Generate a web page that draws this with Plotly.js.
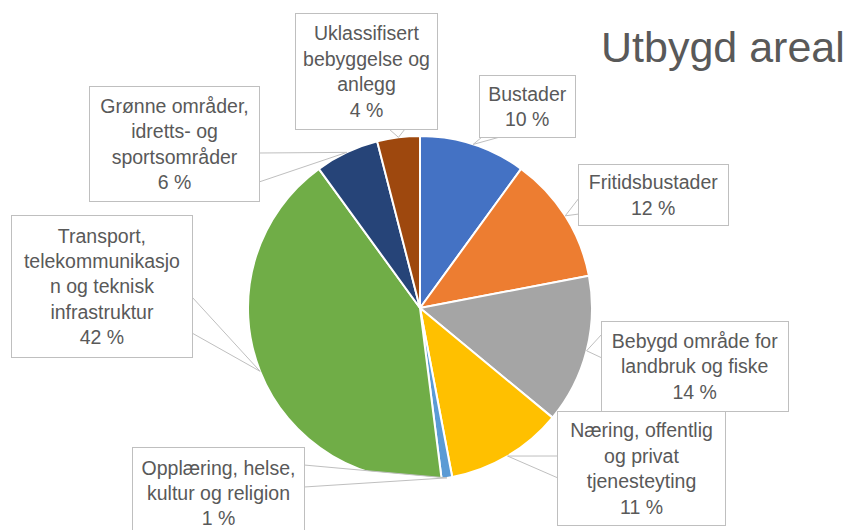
<!DOCTYPE html>
<html>
<head>
<meta charset="utf-8">
<script src="https://cdn.plot.ly/plotly-3.0.1.min.js"></script>
<style>html,body{margin:0;padding:0;background:#fff;}#chart{width:848px;height:530px;}</style>
</head>
<body>
<div id="chart"></div>
<script>
// ---- data ----
const categories = [
  "Bustader",
  "Fritidsbustader",
  "Bebygd område for<br>landbruk og fiske",
  "Næring, offentlig<br>og privat<br>tjenesteyting",
  "Opplæring, helse,<br>kultur og religion",
  "Transport,<br>telekommunikasjo<br>n og teknisk<br>infrastruktur",
  "Grønne områder,<br>idretts- og<br>sportsområder",
  "Uklassifisert<br>bebyggelse og<br>anlegg"
];
const values = [10, 12, 14, 11, 1, 42, 6, 4];
const percentLabels = ["10 %", "12 %", "14 %", "11 %", "1 %", "42 %", "6 %", "4 %"];
const colors = ["#4472C4", "#ED7D31", "#A5A5A5", "#FFC000", "#5B9BD5", "#70AD47", "#264478", "#9E480E"];
const chartTitle = "Utbygd areal";

// ---- layout constants (pixels) ----
const W = 848, H = 530;
const CX = 420, CY = 308, R = 172;
// callout boxes: center x, center y, width, height, pointer base points
const boxes = [
  {cx: 527.5, cy: 106.5, w: 95,  h: 61,  base: [[482,137],[500,137]]},
  {cx: 653.5, cy: 195,   w: 149, h: 60,  base: [[579,198],[579,214]]},
  {cx: 695,   cy: 366.5, w: 186, h: 89,  base: [[602,334],[602,358]]},
  {cx: 641.5, cy: 468.5, w: 167, h: 113, base: [[558,456],[558,478]]},
  {cx: 218.5, cy: 493,   w: 171, h: 90,  base: [[304,465],[304,487]]},
  {cx: 102,   cy: 286.5, w: 180, h: 141, base: [[192,297],[192,333]]},
  {cx: 174.5, cy: 144,   w: 169, h: 114, base: [[259,153],[259,182]]},
  {cx: 366.5, cy: 71.5,  w: 141, h: 115, base: [[389,129],[405,129]]}
];

const px = x => x / W;
const py = y => 1 - y / H;

const total = values.reduce((a, b) => a + b, 0);
let cum = 0;
const shapes = [];
const annotations = [];
values.forEach((v, i) => {
  const mid = (cum + v / 2) / total;
  cum += v;
  const ang = mid * 2 * Math.PI; // clockwise from 12 o'clock
  const tx = CX + R * Math.sin(ang);
  const ty = CY - R * Math.cos(ang);
  const b = boxes[i];
  shapes.push({
    type: 'path', xref: 'paper', yref: 'paper', layer: 'above',
    path: `M ${px(b.base[0][0])},${py(b.base[0][1])} L ${px(tx)},${py(ty)} L ${px(b.base[1][0])},${py(b.base[1][1])}`,
    line: {color: '#BFBFBF', width: 1},
    fillcolor: 'rgba(255,255,255,1)'
  });
  annotations.push({
    xref: 'paper', yref: 'paper', x: px(b.cx), y: py(b.cy),
    xanchor: 'center', yanchor: 'middle',
    text: categories[i] + '<br>' + percentLabels[i],
    showarrow: false, align: 'center', valign: 'middle',
    width: b.w, height: b.h, borderpad: 0,
    bgcolor: '#FFFFFF', bordercolor: '#BFBFBF', borderwidth: 1,
    font: {family: 'Liberation Sans, Arial, sans-serif', size: 19.5, color: '#595959'}
  });
});

const trace = {
  type: 'pie',
  labels: categories.map(c => c.replace(/<br>/g, ' ')),
  values: values,
  sort: false,
  direction: 'clockwise',
  rotation: 0,
  textinfo: 'none',
  hoverinfo: 'label+percent',
  marker: {colors: colors, line: {color: '#FFFFFF', width: 2}},
  domain: {x: [px(CX - R), px(CX + R)], y: [py(CY + R), py(CY - R)]},
  showlegend: false
};

const layout = {
  width: W, height: H,
  margin: {l: 0, r: 0, t: 0, b: 0},
  paper_bgcolor: '#FFFFFF',
  plot_bgcolor: '#FFFFFF',
  showlegend: false,
  title: {
    text: chartTitle,
    xref: 'container', yref: 'container',
    x: 601 / W, xanchor: 'left',
    y: 1 - 47 / H, yanchor: 'middle',
    font: {family: 'Liberation Sans, Arial, sans-serif', size: 43, color: '#595959'}
  },
  shapes: shapes,
  annotations: annotations
};

Plotly.newPlot('chart', [trace], layout, {displayModeBar: false, staticPlot: true});
</script>
</body>
</html>
